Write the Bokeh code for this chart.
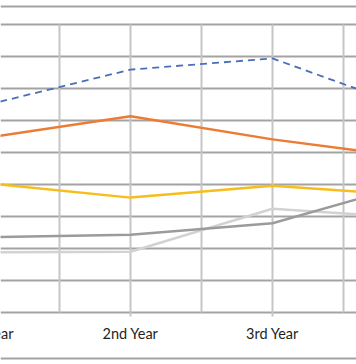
from bokeh.plotting import figure
from bokeh.models import Range1d, FixedTicker, Grid
from bokeh.core.properties import value
from bokeh.embed import file_html
from bokeh.resources import INLINE

categories = ["1st Year", "2nd Year", "3rd Year", "4th Year"]
x_pos = [0, 1, 2, 3]
series_blue = [65.0, 75.9, 79.4, 63.4]
series_orange = [54.7, 61.3, 54.1, 48.3]
series_yellow = [40.4, 35.9, 39.6, 36.6]
series_gray = [23.5, 24.3, 27.9, 40.5]
series_lightgray = [18.8, 19.0, 32.4, 29.5]
y_ticks = list(range(0, 100, 10))
x_between = [0.5, 1.5, 2.5]

FONT = "Lato"
GRID_H = "#a3a3a3"
GRID_V = "#c6c6c6"
LABEL_Y = -6.56
TICK_BOTTOM = -1.25
BORDER_LEVELS = [-14.375, 95.625]

p = figure(width=356, height=364, output_backend="svg", toolbar_location=None,
           x_range=Range1d(12 / 142, 368 / 142), y_range=Range1d(-16.25, 97.5),
           x_axis_location=None, y_axis_location=None,
           min_border=0, min_border_left=0, min_border_right=0,
           min_border_top=0, min_border_bottom=0)
p.outline_line_color = None
p.background_fill_color = "white"
p.border_fill_color = "white"
for g in p.grid:
    g.visible = False

# horizontal value gridlines (the one at 0 acts as the category axis line)
p.add_layout(Grid(dimension=1, ticker=FixedTicker(ticks=y_ticks),
                  grid_line_color=GRID_H, grid_line_width=2))
# outer chart border lines (top and bottom of the chart area)
p.add_layout(Grid(dimension=1, ticker=FixedTicker(ticks=BORDER_LEVELS),
                  grid_line_color=GRID_H, grid_line_width=2))

y_lo, y_hi = y_ticks[0], y_ticks[-1]
# vertical gridlines between categories
p.segment(x0=x_between, y0=[y_lo] * len(x_between), x1=x_between, y1=[y_hi] * len(x_between),
          line_color=GRID_V, line_width=2)
# vertical gridlines at categories, extending slightly below the axis as tick marks
p.segment(x0=x_pos, y0=[TICK_BOTTOM] * len(x_pos), x1=x_pos, y1=[y_hi] * len(x_pos),
          line_color=GRID_V, line_width=2)

# category labels
p.text(x=x_pos, y=[LABEL_Y] * len(x_pos), text=categories, text_align="center",
       text_baseline="middle", text_font=value(FONT), text_font_size="14.5px",
       text_color="#1e1e1e")

p.line(x_pos, series_lightgray, line_color="#d2d2d2", line_width=2.5)
p.line(x_pos, series_gray, line_color="#9b9b9b", line_width=2.5)
p.line(x_pos, series_yellow, line_color="#f7bd1a", line_width=2.5)
p.line(x_pos, series_orange, line_color="#ec7b34", line_width=2.5)
p.line(x_pos, series_blue, line_color="#4a6fb8", line_width=1.8, line_dash="7 5")

open("out.html", "w").write(file_html(p, INLINE))
